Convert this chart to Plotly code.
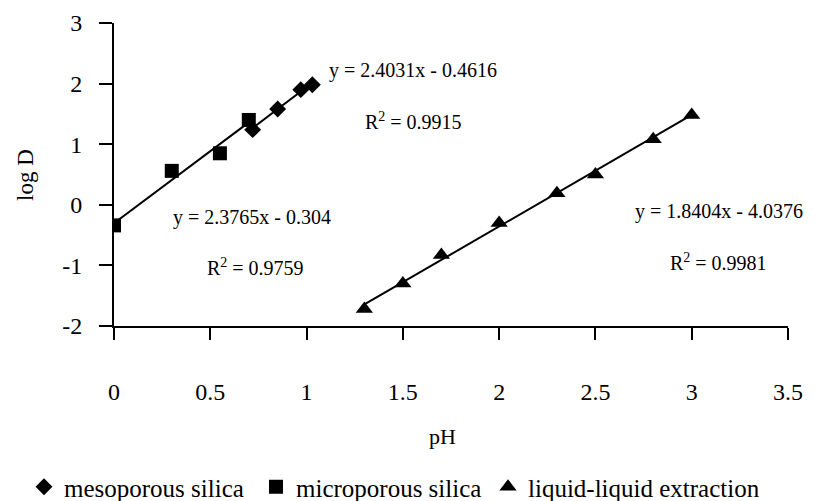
import plotly.graph_objects as go

# Data
meso_x = [0.72, 0.85, 0.97, 1.03]
meso_y = [1.24, 1.58, 1.90, 1.98]
micro_x = [0.0, 0.30, 0.55, 0.70]
micro_y = [-0.34, 0.56, 0.85, 1.40]
lle_x = [1.3, 1.5, 1.7, 2.0, 2.3, 2.5, 2.8, 3.0]
lle_y = [-1.72, -1.30, -0.83, -0.30, 0.19, 0.50, 1.08, 1.48]

# Linear fits (as labelled)
meso_fit = (2.4031, -0.4616)
micro_fit = (2.3765, -0.304)
lle_fit = (1.8404, -4.0376)

x_ticks = [0, 0.5, 1, 1.5, 2, 2.5, 3, 3.5]
y_ticks = [-2, -1, 0, 1, 2, 3]

FONT = "Liberation Serif"

fig = go.Figure()

def fit_line(xs, fit):
    x0, x1 = min(xs), max(xs)
    return [x0, x1], [fit[0] * x0 + fit[1], fit[0] * x1 + fit[1]]

for xs, fit in [(micro_x, micro_fit), (meso_x, meso_fit), (lle_x, lle_fit)]:
    lx, ly = fit_line(xs, fit)
    fig.add_trace(go.Scatter(x=lx, y=ly, mode="lines", line=dict(color="black", width=2),
                             showlegend=False, hoverinfo="skip"))

fig.add_trace(go.Scatter(x=meso_x, y=meso_y, mode="markers", name="mesoporous silica",
                         legendwidth=187,
                         marker=dict(symbol="diamond", size=13, color="black")))
fig.add_trace(go.Scatter(x=micro_x, y=micro_y, mode="markers", name="microporous silica",
                         legendwidth=187,
                         marker=dict(symbol="square", size=14, color="black")))
fig.add_trace(go.Scatter(x=lle_x, y=lle_y, mode="markers", name="liquid-liquid extraction",
                         marker=dict(symbol="triangle-up", size=15, color="black")))

ann_font = dict(family=FONT, size=20, color="black")
annotations = [
    dict(x=327, y=70, text="y = 2.4031x - 0.4616"),
    dict(x=363, y=121, text="R<sup>2</sup> = 0.9915"),
    dict(x=171, y=217, text="y = 2.3765x - 0.304"),
    dict(x=205, y=267, text="R<sup>2</sup> = 0.9759"),
    dict(x=633, y=211, text="y = 1.8404x - 4.0376"),
    dict(x=668, y=262, text="R<sup>2</sup> = 0.9981"),
]
L, T, W, H = 114, 23, 674, 303
anns = []
for a in annotations:
    anns.append(dict(x=(a["x"] - L) / W, y=(T + H - a["y"]) / H, xref="paper", yref="paper",
                     text=a["text"], showarrow=False, xanchor="left", yanchor="middle",
                     font=ann_font))
anns.append(dict(x=(442 - L) / W, y=(T + H - 437) / H, xref="paper", yref="paper", text="pH",
                 showarrow=False, xanchor="center", yanchor="middle",
                 font=dict(family=FONT, size=22, color="black")))
anns.append(dict(x=(25 - L) / W, y=(T + H - 175) / H, xref="paper", yref="paper", text="log D",
                 showarrow=False, textangle=-90, xanchor="center", yanchor="middle",
                 font=dict(family=FONT, size=23, color="black")))

fig.update_layout(
    width=816, height=501,
    margin=dict(l=L, r=816 - L - W, t=T, b=501 - T - H, autoexpand=False),
    paper_bgcolor="white", plot_bgcolor="white",
    font=dict(family=FONT, size=22, color="black"),
    annotations=anns,
    legend=dict(orientation="h", x=(24 - L) / W, xanchor="left", y=(T + H - 487) / H,
                yanchor="middle", font=dict(family=FONT, size=25, color="black"), itemwidth=30,
                bgcolor="rgba(0,0,0,0)"),
    xaxis=dict(range=[0, 3.5], tickvals=x_ticks, ticktext=[str(v) for v in x_ticks],
               showgrid=False, zeroline=False, showline=True, linecolor="black", linewidth=2,
               ticks="outside", ticklen=12, tickwidth=2, tickcolor="black",
               ticklabelstandoff=31, tickfont=dict(family=FONT, size=24, color="black")),
    yaxis=dict(range=[-2, 3], tickvals=y_ticks, ticktext=[str(v) for v in y_ticks],
               showgrid=False, zeroline=False, showline=True, linecolor="black", linewidth=2,
               ticks="outside", ticklen=13, tickwidth=2, tickcolor="black",
               ticklabelstandoff=12, tickfont=dict(family=FONT, size=24, color="black")),
)

fig.write_html("out.html")
